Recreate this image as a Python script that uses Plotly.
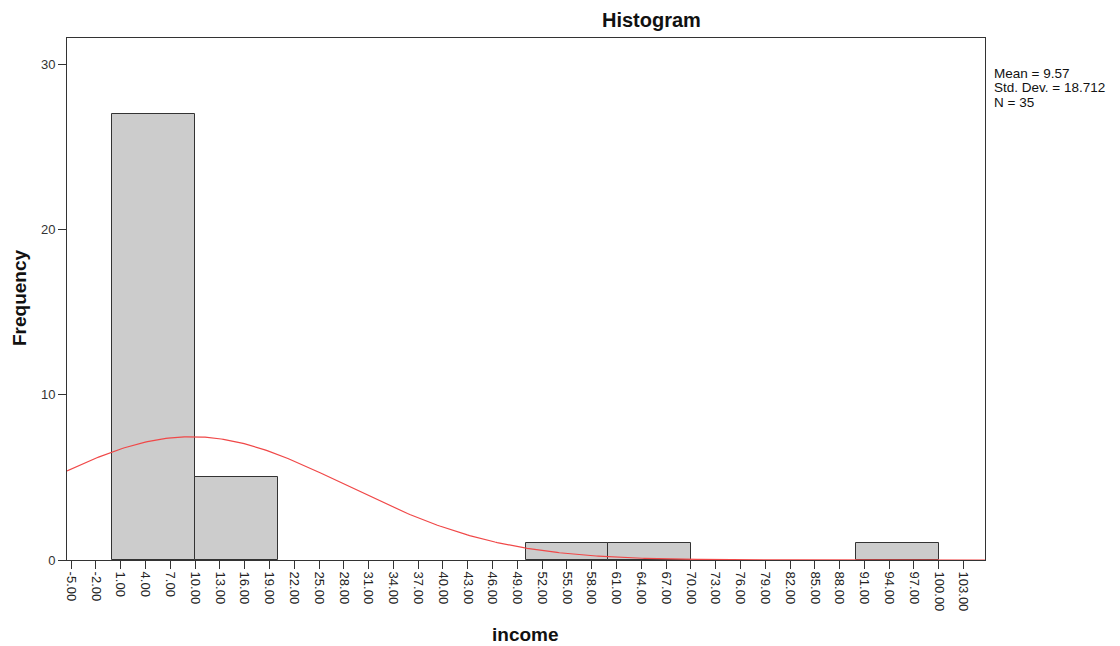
import plotly.graph_objects as go
import numpy as np

# Data
bin_starts = [0, 10, 20, 30, 40, 50, 60, 70, 80, 90]
bin_width = 10
counts = [27, 5, 0, 0, 0, 1, 1, 0, 0, 1]
mean_val = 9.57
std_val = 18.712
n_val = 35
stats_lines = ["Mean = 9.57", "Std. Dev. = 18.712", "N = 35"]
tick_values = list(range(-5, 104, 3))
tick_labels = [f"{v:.2f}" for v in tick_values]
y_ticks = [0, 10, 20, 30]

x_min, x_max = -5.5, 105.6
y_min, y_max = 0, 31.6

FONT = "Liberation Sans, Arial, sans-serif"

fig = go.Figure()

bx = [s + bin_width / 2 for s, c in zip(bin_starts, counts) if c > 0]
by = [c for c in counts if c > 0]
fig.add_trace(go.Bar(
    x=bx, y=by, width=bin_width,
    marker=dict(color="#cccccc", line=dict(color="#333333", width=1)),
    showlegend=False, hoverinfo="x+y",
))

# Normal curve from the reported statistics
xs = np.linspace(x_min, x_max, 400)
ys = n_val * bin_width / (std_val * np.sqrt(2 * np.pi)) * np.exp(-0.5 * ((xs - mean_val) / std_val) ** 2)
fig.add_trace(go.Scatter(
    x=xs, y=ys, mode="lines",
    line=dict(color="#f04848", width=1.2),
    showlegend=False, hoverinfo="skip",
))

pl, pr, pt, pb = 67, 985, 38, 560

def px2paper(px, py):
    return (px - pl) / (pr - pl), (pb - py) / (pb - pt)

annots = []
def add_text(text, px, py, size, angle=0, xanchor="center", bold=False):
    x, y = px2paper(px, py)
    annots.append(dict(text=f"<b>{text}</b>" if bold else text, x=x, y=y,
                       xref="paper", yref="paper", showarrow=False, textangle=angle,
                       xanchor=xanchor, yanchor="middle",
                       font=dict(size=size, color="#111111", family=FONT)))

add_text("Histogram", 651, 20, 20, bold=True)
add_text("Frequency", 19, 298, 19, angle=-90, bold=True)
add_text("income", 525, 634, 19, bold=True)
for i, line in enumerate(stats_lines):
    add_text(line, 992, 73 + i * 14.5, 13.5, xanchor="left")

fig.update_layout(
    width=1120, height=646,
    margin=dict(l=pl, r=1120 - pr, t=pt, b=646 - pb),
    paper_bgcolor="white", plot_bgcolor="white",
    font=dict(family=FONT, color="#222222", size=12),
    bargap=0,
    xaxis=dict(
        range=[x_min, x_max], tickmode="array", tickvals=tick_values, ticktext=tick_labels,
        tickangle=90, ticks="outside", ticklen=8, tickwidth=1, tickcolor="#333333",
        showline=True, linecolor="#333333", linewidth=1, mirror=True,
        showgrid=False, zeroline=False, tickfont=dict(size=13, color="#222222"),
    ),
    yaxis=dict(
        range=[y_min, y_max], tickmode="array", tickvals=y_ticks,
        ticks="outside", ticklen=8, tickwidth=1, tickcolor="#333333",
        showline=True, linecolor="#333333", linewidth=1, mirror=True,
        showgrid=False, zeroline=False, tickfont=dict(size=13, color="#333333"),
    ),
    annotations=annots,
)

fig.write_html("out.html")
